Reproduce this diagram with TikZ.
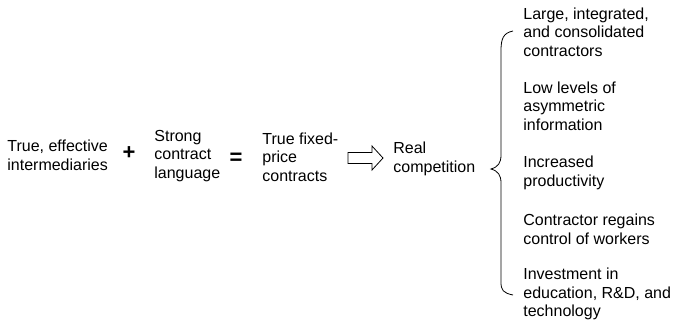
\documentclass[tikz,border=0pt]{standalone}
\usepackage{fontspec}
\setmainfont{Liberation Sans}
\usetikzlibrary{positioning}

\begin{document}
\begin{tikzpicture}[x=1pt,y=-1pt,line width=0.8pt,
  txt/.style={inner sep=0pt,align=left,anchor=west,font=\fontsize{16}{18.7}\selectfont},
  sign/.style={inner sep=0pt,font=\fontsize{22}{22}\selectfont\bfseries}]
  \useasboundingbox (0,0) rectangle (678,333);
  % Left-hand side of the equation
  \node[txt] (inter) at (7,155) {True, effective\\intermediaries};
  \node[sign] (plus) at (129,153) {+};
  \node[txt] (strong) at (154,156) {Strong\\contract\\language};
  \node[sign] (equals) at (236,159) {=};
  \node[txt] (fixed) at (262,157) {True fixed-\\price\\contracts};
  % Hollow block arrow
  \draw (348,152.5) -- (372,152.5) -- (372,146) -- (383,158)
    -- (372,170) -- (372,163.5) -- (348,163.5) -- cycle;
  \node[txt] (real) at (393,159) {Real\\competition};
  % Brace opening to the outcomes
  \draw (513,31) .. controls (503,33) and (501,39) .. (501,51)
    -- (501,155) .. controls (501,163) and (498,167) .. (491,169)
    .. controls (498,171) and (501,175) .. (501,183)
    -- (501,282) .. controls (501,290) and (503,293) .. (513,295);
  % Outcomes
  \node[txt] (large) at (523,32) {Large, integrated,\\and consolidated\\contractors};
  \node[txt] (asym) at (523,106) {Low levels of\\asymmetric\\information};
  \node[txt] (prod) at (523,173) {Increased\\productivity};
  \node[txt] (regain) at (523,229) {Contractor regains\\control of workers};
  \node[txt] (invest) at (523,294) {Investment in\\education, R\&D, and\\technology};
\end{tikzpicture}
\end{document}
